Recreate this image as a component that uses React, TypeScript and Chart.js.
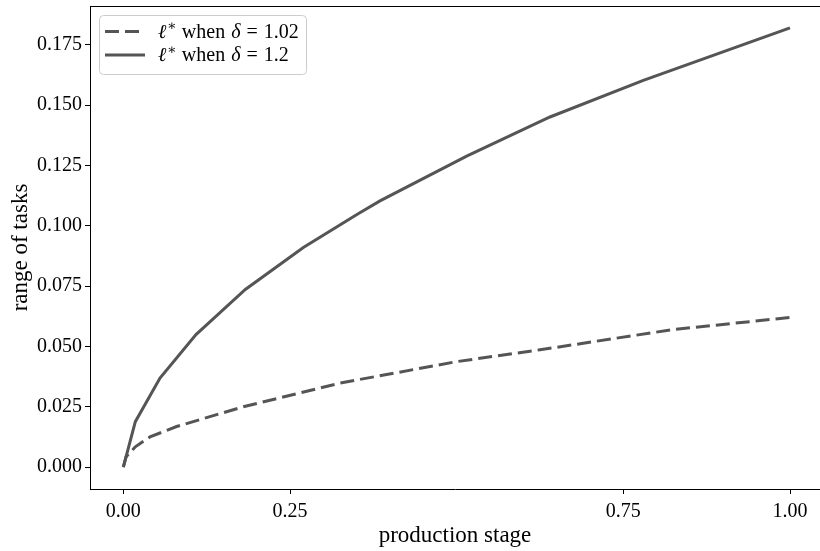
import React, { useEffect, useRef } from "react";
import { Chart, registerables } from "chart.js";

Chart.register(...registerables);

// x = production stage, y = range of tasks
const xLow = [0, 0.004, 0.018, 0.04, 0.08, 0.18, 0.325, 0.5, 0.625, 0.825, 1.0];
const yLow = [0, 0.0042, 0.0084, 0.0125, 0.0168, 0.025, 0.0348, 0.0437, 0.0486, 0.057, 0.062];

const xHigh = [0, 0.018, 0.055, 0.109, 0.183, 0.27, 0.351, 0.385, 0.515, 0.64, 0.78, 1.0];
const yHigh = [0, 0.0188, 0.0369, 0.0549, 0.0736, 0.091, 0.1048, 0.1103, 0.1289, 0.1451, 0.1603, 0.182];

const xTicks = [0, 0.25, 0.75, 1.0];
const yTicks = [0, 0.025, 0.05, 0.075, 0.1, 0.125, 0.15, 0.175];

const deltas = ["1.02", "1.2"];

const FONT = "'Liberation Serif', 'DejaVu Serif', serif";
const LINE = "#555555";

export default function App() {
  const ref = useRef<HTMLCanvasElement | null>(null);

  useEffect(() => {
    document.body.style.margin = "0";
    const canvas = ref.current!;
    const spinePlugin = {
      id: "spines",
      afterDraw(chart: any) {
        const { ctx, chartArea } = chart;
        ctx.save();
        ctx.strokeStyle = "#000";
        ctx.lineWidth = 1;
        ctx.beginPath();
        ctx.moveTo(chartArea.left, chartArea.top + 0.5);
        ctx.lineTo(chartArea.right, chartArea.top + 0.5);
        ctx.stroke();
        ctx.restore();
      },
    };
    const legendPlugin = {
      id: "mplLegend",
      afterDraw(chart: any) {
        const { ctx } = chart;
        ctx.save();
        const bx = 99, by = 15, bw = 207, bh = 59, r = 4;
        ctx.fillStyle = "rgba(255,255,255,0.8)";
        ctx.strokeStyle = "#cccccc";
        ctx.lineWidth = 1;
        ctx.beginPath();
        ctx.roundRect(bx + 0.5, by + 0.5, bw, bh, r);
        ctx.fill();
        ctx.stroke();
        const rows = [31.5, 55];
        chart.data.datasets.forEach((ds: any, i: number) => {
          const y = rows[i];
          ctx.strokeStyle = ds.borderColor;
          ctx.lineWidth = ds.borderWidth;
          ctx.setLineDash(ds.borderDash || []);
          ctx.beginPath();
          ctx.moveTo(105, y);
          ctx.lineTo(145, y);
          ctx.stroke();
          ctx.setLineDash([]);
          ctx.fillStyle = "#000";
          ctx.textBaseline = "middle";
          ctx.textAlign = "left";
          let x = 158;
          ctx.font = `italic 20px ${FONT}`;
          ctx.fillText("ℓ", x, y + 1);
          x += ctx.measureText("ℓ").width + 1;
          ctx.font = `14px ${FONT}`;
          ctx.fillText("∗", x, y - 5);
          x += ctx.measureText("∗").width + 5;
          ctx.font = `20px ${FONT}`;
          ctx.fillText("when", x, y + 1);
          x += ctx.measureText("when").width + 6;
          ctx.font = `italic 20px ${FONT}`;
          ctx.fillText("δ", x, y + 1);
          x += ctx.measureText("δ").width + 6;
          ctx.font = `20px ${FONT}`;
          ctx.fillText("=", x, y + 1);
          x += ctx.measureText("=").width + 6;
          ctx.fillText(ds.labelValue, x, y + 1);
        });
        ctx.restore();
      },
    };

    const chart = new Chart(canvas, {
      type: "line",
      data: {
        datasets: [
          {
            label: `ℓ* when δ = ${deltas[0]}`,
            labelValue: deltas[0],
            data: xLow.map((x, i) => ({ x, y: yLow[i] })),
            borderColor: LINE,
            borderWidth: 3,
            borderDash: [14, 6],
            pointRadius: 0,
            fill: false,
            tension: 0,
          } as any,
          {
            label: `ℓ* when δ = ${deltas[1]}`,
            labelValue: deltas[1],
            data: xHigh.map((x, i) => ({ x, y: yHigh[i] })),
            borderColor: LINE,
            borderWidth: 3,
            pointRadius: 0,
            fill: false,
            tension: 0,
          } as any,
        ],
      },
      options: {
        responsive: false,
        animation: false,
        layout: { padding: { top: 6, right: 0, left: 0, bottom: 0 } },
        plugins: {
          legend: { display: false },
          tooltip: { enabled: false },
        },
        scales: {
          x: {
            type: "linear",
            min: -0.05,
            max: 1.045,
            afterBuildTicks: (s: any) => {
              s.ticks = xTicks.map((v) => ({ value: v }));
            },
            afterFit: (s: any) => {
              s.height = 62;
              s.paddingLeft = 0;
              s.paddingRight = 0;
            },
            grid: {
              drawOnChartArea: false,
              drawTicks: true,
              tickLength: 5,
              tickColor: "#000",
              tickWidth: 1,
            },
            border: { display: true, color: "#000", width: 1 },
            ticks: {
              color: "#000",
              padding: 6,
              maxRotation: 0,
              autoSkip: false,
              font: { family: FONT, size: 20 },
              callback: (v: any) => Number(v).toFixed(2),
            },
            title: {
              display: true,
              text: "production stage",
              color: "#000",
              font: { family: FONT, size: 23 },
              padding: { top: 0, bottom: 1 },
            },
          },
          y: {
            type: "linear",
            min: -0.0091,
            max: 0.1911,
            afterBuildTicks: (s: any) => {
              s.ticks = yTicks.map((v) => ({ value: v }));
            },
            afterFit: (s: any) => {
              s.width = 90;
              s.paddingTop = 0;
              s.paddingBottom = 0;
            },
            grid: {
              drawOnChartArea: false,
              drawTicks: true,
              tickLength: 5,
              tickColor: "#000",
              tickWidth: 1,
            },
            border: { display: true, color: "#000", width: 1 },
            ticks: {
              color: "#000",
              padding: 3,
              autoSkip: false,
              font: { family: FONT, size: 20 },
              callback: (v: any) => Number(v).toFixed(3),
            },
            title: {
              display: true,
              text: "range of tasks",
              color: "#000",
              font: { family: FONT, size: 23 },
              padding: { top: 7, bottom: 0 },
            },
          },
        },
      },
      plugins: [spinePlugin, legendPlugin],
    });
    return () => chart.destroy();
  }, []);

  return (
    <div style={{ width: 820, height: 551 }}>
      <canvas ref={ref} width={820} height={551} style={{ display: "block" }} />
    </div>
  );
}
